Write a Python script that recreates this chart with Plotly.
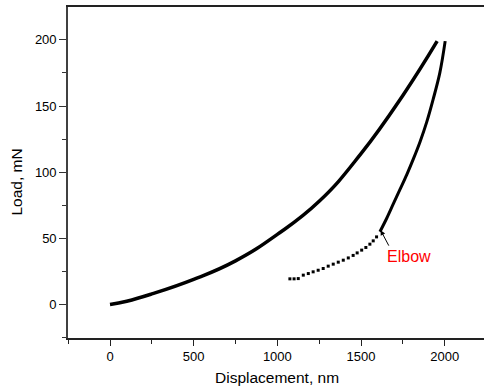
import plotly.graph_objects as go

# Loading branch: displacement (nm) vs load (mN)
load_disp = [0, 100, 250, 500, 750, 1000, 1250, 1500, 1750, 1955]
load_force = [0, 2.5, 8, 19, 33, 53, 78, 114, 158, 199]

# Unloading branch, dense upper part
unload_disp = [2003, 1971, 1931, 1893, 1853, 1813, 1773, 1733, 1693, 1653, 1613]
unload_force = [199, 175, 155, 138, 123, 110, 98, 87, 76, 65, 55]

# Unloading branch, sparse tail (individual data points)
tail_disp = [1593, 1573, 1553, 1529, 1504, 1477, 1453, 1424, 1394, 1364, 1334,
             1304, 1274, 1244, 1214, 1185, 1155, 1125, 1100, 1075]
tail_force = [51.1, 48.1, 45.6, 43.1, 41.1, 39.0, 37.1, 35.2, 33.5, 32.0, 30.5,
              29.0, 27.2, 25.9, 24.7, 23.4, 22.2, 19.6, 19.4, 19.4]

# Elbow annotation
elbow_point = (1617, 56.2)
elbow_label = (1786, 36.5)

font_family = "Liberation Sans, Arial, sans-serif"

fig = go.Figure()
fig.add_trace(go.Scatter(x=load_disp, y=load_force, mode="lines",
                         line=dict(color="black", width=3.5, shape="spline",
                                   smoothing=1.3),
                         showlegend=False))
fig.add_trace(go.Scatter(x=unload_disp, y=unload_force, mode="lines",
                         line=dict(color="black", width=3, shape="spline",
                                   smoothing=1.0),
                         showlegend=False))
fig.add_trace(go.Scatter(x=tail_disp, y=tail_force, mode="markers",
                         marker=dict(color="black", symbol="square", size=3,
                                     line=dict(width=0)),
                         showlegend=False))

fig.add_annotation(x=elbow_point[0], y=elbow_point[1], xref="x", yref="y",
                   ax=9, ay=17, axref="pixel", ayref="pixel", text="",
                   showarrow=True, arrowhead=2, arrowsize=1, arrowwidth=1,
                   arrowcolor="black")
fig.add_annotation(x=elbow_label[0], y=elbow_label[1], xref="x", yref="y",
                   text="Elbow", showarrow=False,
                   xanchor="center", yanchor="middle",
                   font=dict(family=font_family, size=16, color="#ff0000"))

# Axis titles
fig.add_annotation(x=0.5024, y=-0.1208, xref="paper", yref="paper",
                   text="Displacement, nm", showarrow=False,
                   xanchor="center", yanchor="middle",
                   font=dict(family=font_family, size=15.5, color="black"))
fig.add_annotation(x=-0.1226, y=0.4728, xref="paper", yref="paper",
                   text="Load, mN", showarrow=False, textangle=-90,
                   xanchor="center", yanchor="middle",
                   font=dict(family=font_family, size=15.5, color="black"))

fig.update_xaxes(range=[-251, 2235], tickvals=[0, 500, 1000, 1500, 2000],
                 ticks="outside", ticklen=6, tickwidth=1.2, tickcolor="#222",
                 minor=dict(ticks="outside", ticklen=4, tickwidth=1.2,
                            tickcolor="#222", dtick=250, tick0=-250),
                 showline=True, linecolor="#222", linewidth=1.6, mirror=True,
                 showgrid=False, zeroline=False,
                 tickfont=dict(family=font_family, size=13, color="black"))
fig.update_yaxes(range=[-25.3, 224.8], tickvals=[0, 50, 100, 150, 200],
                 ticks="outside", ticklen=7, tickwidth=1.2, tickcolor="#333",
                 minor=dict(ticks="outside", ticklen=4, tickwidth=1.2,
                            tickcolor="#333", dtick=25, tick0=0),
                 showline=True, linecolor="#404040", linewidth=1.6, mirror=False,
                 showgrid=False, zeroline=False,
                 tickfont=dict(family=font_family, size=13, color="black"))

fig.update_layout(width=484, height=391,
                  margin=dict(l=68, r=0, t=7, b=53),
                  paper_bgcolor="white", plot_bgcolor="white")

fig.write_html("out.html")
